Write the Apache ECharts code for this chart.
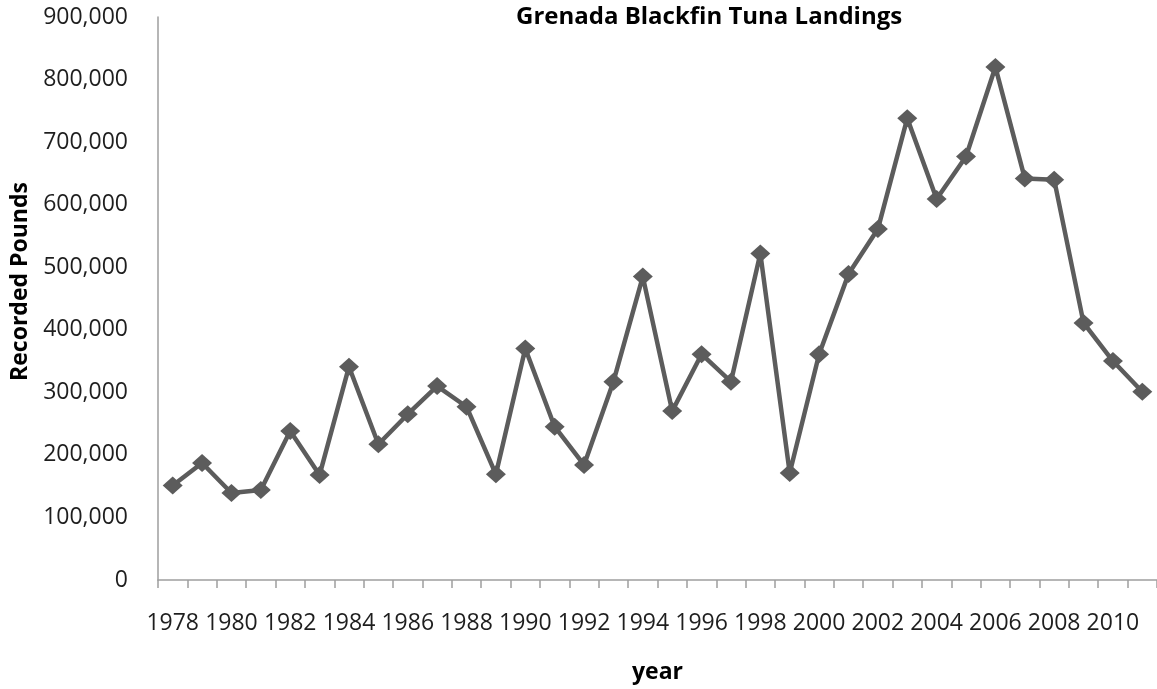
<!DOCTYPE html>
<html>
<head>
<meta charset="utf-8">
<script src="https://cdn.jsdelivr.net/npm/echarts@6/dist/echarts.min.js"></script>
<style>
html,body{margin:0;padding:0;background:#fff;}
#chart{width:1157px;height:689px;}
</style>
</head>
<body>
<div id="chart"></div>
<script>
const years = ['1978','1979','1980','1981','1982','1983','1984','1985','1986','1987','1988','1989','1990','1991','1992','1993','1994','1995','1996','1997','1998','1999','2000','2001','2002','2003','2004','2005','2006','2007','2008','2009','2010','2011'];
const pounds = [151000,187000,139000,144000,238000,168000,341000,217000,265000,310000,277000,169000,370000,245000,184000,317000,485000,270000,361000,317000,522000,171000,361000,489000,561000,738000,609000,677000,820000,642000,640000,411000,350000,301000];
const titleText = 'Grenada Blackfin Tuna Landings';
const yName = 'Recorded Pounds';
const xName = 'year';

const chart = echarts.init(document.getElementById('chart'));
const font = '"Open Sans", sans-serif';
chart.setOption({
  animation: false,
  backgroundColor: '#ffffff',
  title: {
    text: titleText,
    left: 516, top: 5, padding: 0,
    textStyle: {fontFamily: font, fontSize: 24, fontWeight: 'bold', color: '#000'}
  },
  grid: {left: 158, right: -10, top: 17, bottom: 109, containLabel: false},
  xAxis: {
    type: 'category',
    data: years,
    boundaryGap: true,
    name: xName,
    nameLocation: 'middle',
    nameGap: 81,
    nameTextStyle: {fontFamily: font, fontSize: 23, fontWeight: 'bold', color: '#000'},
    axisLine: {lineStyle: {color: '#9e9e9e', width: 1.5}},
    axisTick: {show: true, interval: 0, length: 8, lineStyle: {color: '#9e9e9e', width: 1.5}},
    axisLabel: {interval: 1, margin: 32, fontFamily: font, fontSize: 23, color: '#1e1e1e'},
    splitLine: {show: false}
  },
  yAxis: {
    type: 'value',
    min: 0, max: 900000, interval: 100000,
    name: yName,
    nameLocation: 'middle',
    nameGap: 124,
    nameRotate: 90,
    nameTextStyle: {fontFamily: font, fontSize: 23, fontWeight: 'bold', color: '#000', padding: [0, 0, 0, 34]},
    axisLine: {show: true, lineStyle: {color: '#9e9e9e', width: 1.5}},
    axisTick: {show: false},
    axisLabel: {
      margin: 30, fontFamily: font, fontSize: 23, color: '#1e1e1e',
      formatter: v => v.toLocaleString('en-US')
    },
    splitLine: {show: false}
  },
  series: [{
    type: 'line',
    data: pounds,
    symbol: 'diamond',
    symbolSize: [20, 18],
    lineStyle: {color: '#5c5c5c', width: 4.5},
    itemStyle: {color: '#5c5c5c'},
    clip: false
  }]
});
</script>
</body>
</html>
